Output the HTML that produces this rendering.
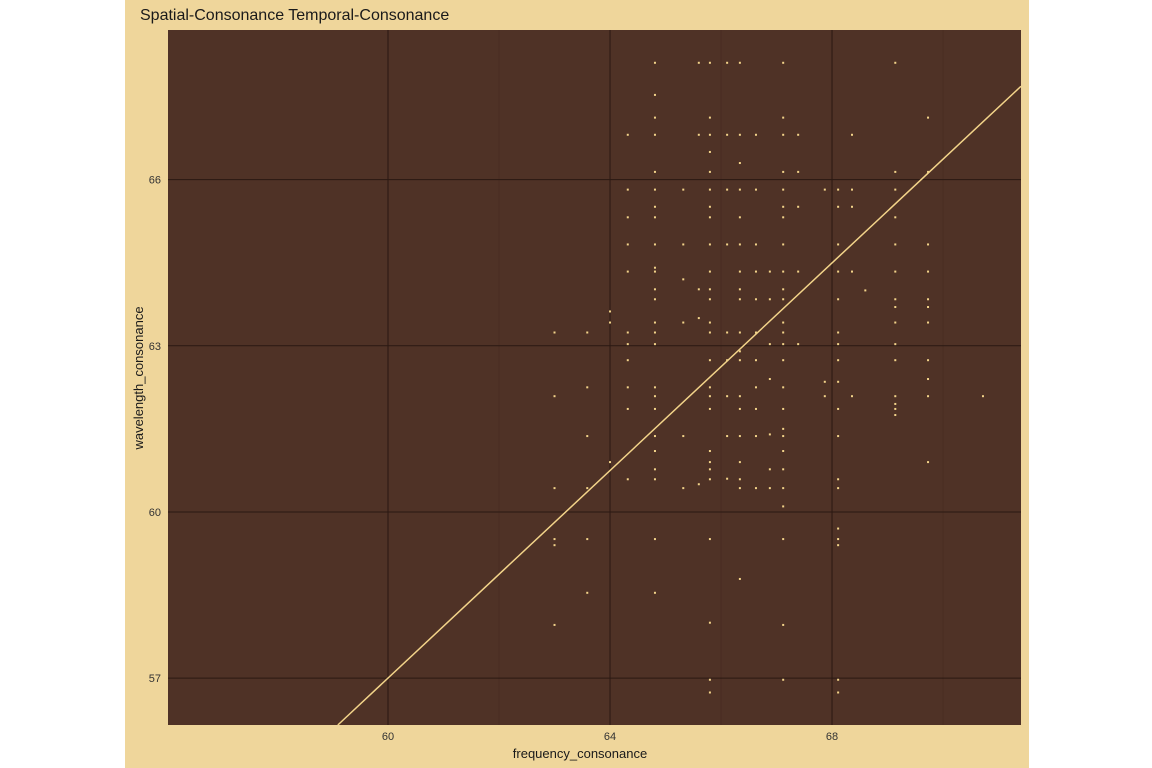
<!DOCTYPE html>
<html><head><meta charset="utf-8"><style>
body{margin:0;background:#fff;}
svg{display:block;font-family:"Liberation Sans",sans-serif;}
</style></head><body>
<svg id="chart" width="1152" height="768">
<rect x="125" y="0" width="904" height="768" fill="#efd69b"/>
<text x="140" y="20" font-size="16" fill="#1a1a1a">Spatial-Consonance Temporal-Consonance</text>
<rect x="168" y="30" width="853" height="695" fill="#4f3226"/>
<g id="grid"></g><g id="pts"></g><g id="fit"></g><g id="axes"></g>
<text x="580" y="758" font-size="13" text-anchor="middle" fill="#1a1a1a">frequency_consonance</text>
<text transform="translate(143,378) rotate(-90)" font-size="13" text-anchor="middle" fill="#1a1a1a">wavelength_consonance</text>
</svg>
<script>
const xTicks=[60,64,68];
const yTicks=[57,60,63,66];
const fitCoef=[57,0.937];
const colX=[63.0,63.59,64.0,64.32,64.81,65.32,65.6,65.8,66.11,66.34,66.63,66.88,67.12,67.39,67.87,68.11,68.36,68.6,69.14,69.73,70.72];
const colY=[
[63.24,62.09,60.43,59.51,59.4,57.96],
[63.24,62.25,61.37,60.43,59.51,58.54],
[63.62,63.42,60.9],
[66.81,65.82,65.32,64.83,64.34,63.24,63.03,62.74,62.25,61.86,60.59],
[68.11,67.53,67.12,66.81,66.14,65.82,65.51,65.32,64.83,64.41,64.34,64.02,63.84,63.42,63.24,63.03,62.25,62.09,61.86,61.37,61.1,60.77,60.59,59.51,58.54],
[65.82,64.83,64.2,63.42,61.37,60.43],
[68.11,66.81,64.02,63.5,60.5],
[68.11,67.12,66.81,66.5,66.14,65.82,65.51,65.32,64.83,64.34,64.02,63.84,63.42,63.24,62.74,62.25,62.09,61.86,61.1,60.9,60.77,60.59,59.51,58.0,56.97,56.74],
[68.11,66.81,65.82,64.83,63.24,62.74,62.09,61.37,60.6],
[68.11,66.81,66.3,65.82,65.32,64.83,64.34,64.02,63.84,63.24,62.9,62.74,62.09,61.86,61.37,60.9,60.59,60.43,58.79],
[66.81,65.82,64.83,64.34,63.84,63.24,62.74,62.25,61.86,61.37,60.43],
[64.34,63.84,63.03,62.4,61.4,60.77,60.43],
[68.11,67.12,66.81,66.14,65.82,65.51,65.32,64.83,64.34,64.02,63.84,63.42,63.24,63.03,62.74,62.25,61.86,61.5,61.37,61.1,60.77,60.43,60.1,59.51,57.96,56.97],
[66.81,66.14,65.51,64.34,63.03],
[65.82,62.35,62.09],
[65.82,65.51,64.83,64.34,63.84,63.24,63.03,62.74,62.35,61.86,61.37,60.59,60.43,59.7,59.51,59.4,56.97,56.74],
[66.81,65.82,65.51,64.34,62.09],
[64.0],
[68.11,66.14,65.82,65.32,64.83,64.34,63.84,63.7,63.42,63.03,62.74,62.09,61.95,61.86,61.75],
[67.12,66.14,64.83,64.34,63.84,63.7,63.42,62.74,62.4,62.09,60.9],
[62.09]
];
const L=168,R=1021,T=30,B=725;
const x0=56.036,x1=71.405,y0=56.153,y1=68.702;
const sx=v=>L+(v-x0)/(x1-x0)*(R-L);
const sy=v=>B-(v-y0)/(y1-y0)*(B-T);
const NS='http://www.w3.org/2000/svg';
function mk(t,a,p){const e=document.createElementNS(NS,t);for(const k in a)e.setAttribute(k,a[k]);p.appendChild(e);return e;}
const grid=document.getElementById('grid'),axes=document.getElementById('axes');
xTicks.forEach(v=>{
 const g=mk('line',{x1:sx(v),x2:sx(v),y1:T,y2:B,stroke:'#2a1812','stroke-width':1},grid);
 
 
 const m=mk('line',{x1:sx(v+2),x2:sx(v+2),y1:T,y2:B,stroke:'#45291f','stroke-width':0.6},grid);
 
 
 const t=mk('text',{x:sx(v),y:740,'font-size':11,'text-anchor':'middle',fill:'#333'},axes);t.textContent=v;
 
 
});
yTicks.forEach(v=>{
 const g=mk('line',{x1:L,x2:R,y1:sy(v),y2:sy(v),stroke:'#2a1812','stroke-width':1},grid);
 
 
 const t=mk('text',{x:161,y:sy(v)+4,'font-size':11,'text-anchor':'end',fill:'#333'},axes);t.textContent=v;
 
 
});
const pts=document.getElementById('pts');
colX.forEach((xv,i)=>colY[i].forEach(yv=>{
 const c=mk('rect',{x:sx(xv)-1,y:sy(yv)-1,width:2,height:2,fill:'#f3d48a'},pts);
 
 
}));
const fx=v=>fitCoef[0]+fitCoef[1]*(v-60);
const xa=y0===y0?(y0-fitCoef[0])/fitCoef[1]+60:0;
const ln=mk('line',{x1:sx(xa),y1:sy(fx(xa)),x2:sx(x1),y2:sy(fx(x1)),stroke:'#f3d48a','stroke-width':1.5},document.getElementById('fit'));


</script>
</body></html>
